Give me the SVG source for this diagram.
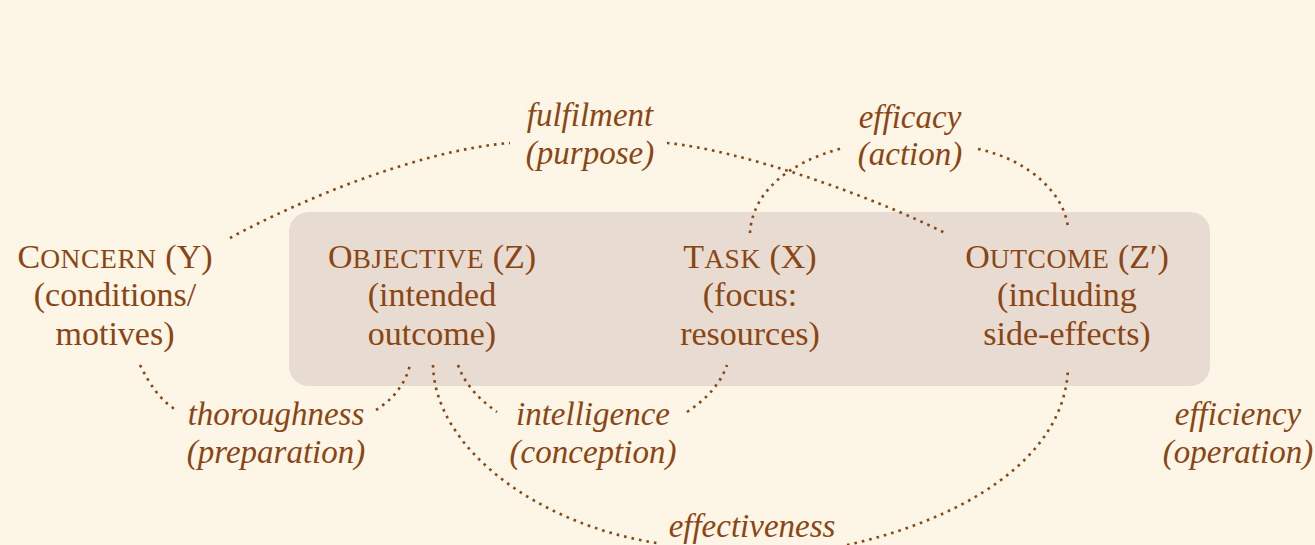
<svg xmlns="http://www.w3.org/2000/svg" width="1315" height="545" viewBox="0 0 1315 545">
  <style>
    .node { font-family: "Liberation Serif", "DejaVu Serif", serif; font-size: 34px; fill: #8b4513; text-anchor: middle; }
    .sc { font-size: 27.5px; letter-spacing: 0.6px; }
    .lbl { font-family: "Liberation Serif", "DejaVu Serif", serif; font-style: italic; font-size: 33px; fill: #8b4513; text-anchor: middle; }
    .link { fill: none; stroke: #8b4513; stroke-width: 2.6; stroke-dasharray: 2.6 5; }
  </style>
  <rect x="0" y="0" width="1315" height="545" fill="#fdf5e6"/>
  <!-- shaded region grouping objective, task and outcome -->
  <rect x="289" y="212" width="921" height="174" rx="20" ry="20" fill="#e8dbd1"/>

  <g id="connectors">
    <path class="link" d="M230,238 C300,200 420,150 510,143"/>
    <path class="link" d="M667,143 C740,150 870,195 947,234"/>
    <path class="link" d="M750,233 C752,195 785,163 843,148"/>
    <path class="link" d="M978,149 C1030,160 1065,195 1068,228"/>
    <path class="link" d="M140,365 C150,385 160,400 176,410"/>
    <path class="link" d="M376,410 C392,400 405,385 410,365"/>
    <path class="link" d="M458,365 C465,385 480,400 497,412"/>
    <path class="link" d="M687,412 C705,400 720,385 727,365"/>
    <path class="link" d="M433,365 C435,450 540,525 657,543"/>
    <path class="link" d="M847,545 C960,520 1065,460 1068,368"/>
  </g>

  <g id="concern">
    <text class="node" x="115" y="268">C<tspan class="sc">ONCERN</tspan> (Y)</text>
    <text class="node" x="115" y="306">(conditions/</text>
    <text class="node" x="115" y="345">motives)</text>
  </g>
  <g id="objective">
    <text class="node" x="432" y="268">O<tspan class="sc">BJECTIVE</tspan> (Z)</text>
    <text class="node" x="432" y="306">(intended</text>
    <text class="node" x="432" y="345">outcome)</text>
  </g>
  <g id="task">
    <text class="node" x="750" y="268">T<tspan class="sc">ASK</tspan> (X)</text>
    <text class="node" x="750" y="306">(focus:</text>
    <text class="node" x="750" y="345">resources)</text>
  </g>
  <g id="outcome">
    <text class="node" x="1067" y="268">O<tspan class="sc">UTCOME</tspan> (Z′)</text>
    <text class="node" x="1067" y="306">(including</text>
    <text class="node" x="1067" y="345">side-effects)</text>
  </g>

  <g id="fulfilment">
    <text class="lbl" x="590" y="126">fulfilment</text>
    <text class="lbl" x="590" y="164">(purpose)</text>
  </g>
  <g id="efficacy">
    <text class="lbl" x="910" y="128">efficacy</text>
    <text class="lbl" x="910" y="165">(action)</text>
  </g>
  <g id="thoroughness">
    <text class="lbl" x="276" y="425">thoroughness</text>
    <text class="lbl" x="276" y="463">(preparation)</text>
  </g>
  <g id="intelligence">
    <text class="lbl" x="593" y="425">intelligence</text>
    <text class="lbl" x="593" y="463">(conception)</text>
  </g>
  <g id="effectiveness">
    <text class="lbl" x="752" y="537">effectiveness</text>
  </g>
  <g id="efficiency">
    <text class="lbl" x="1238" y="425">efficiency</text>
    <text class="lbl" x="1238" y="463">(operation)</text>
  </g>
</svg>
